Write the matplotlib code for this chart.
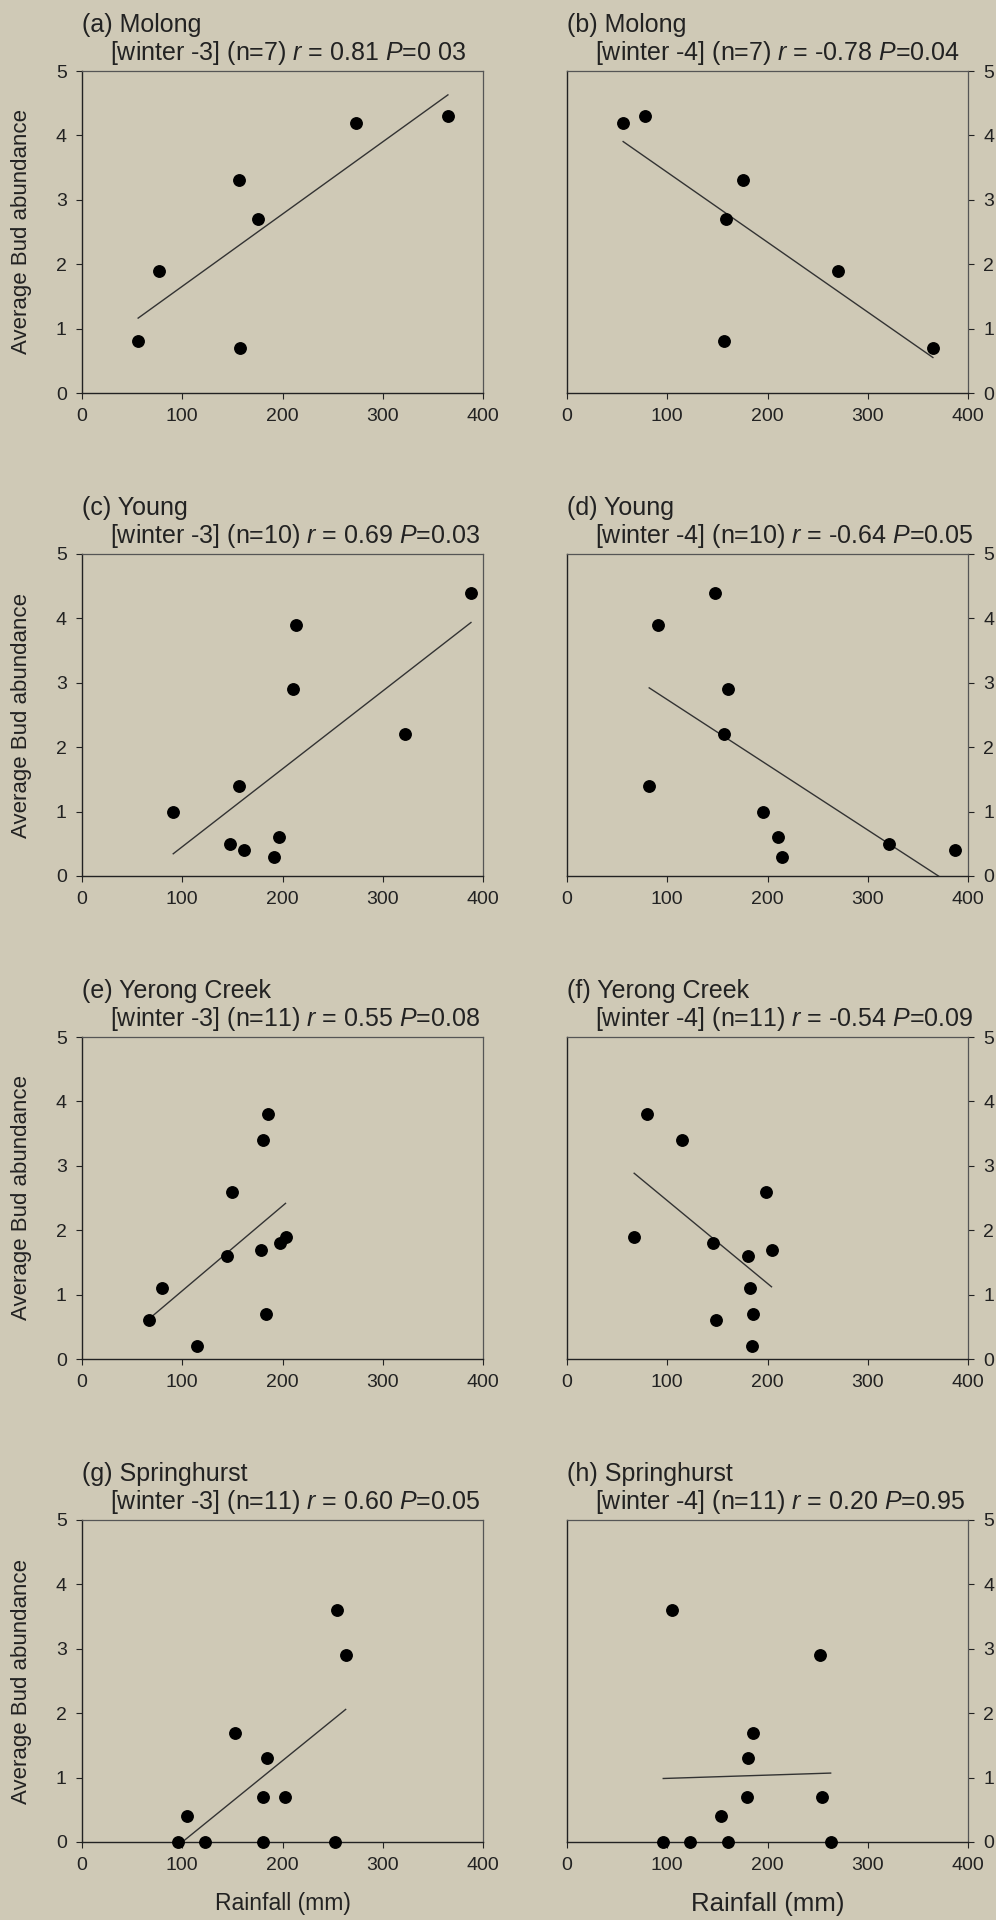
import numpy as np
import matplotlib
matplotlib.use("Agg")
import matplotlib.pyplot as plt

plt.rcParams['font.family'] = ['Liberation Sans', 'DejaVu Sans']
plt.rcParams['mathtext.fontset'] = 'custom'
plt.rcParams['mathtext.rm'] = 'Liberation Sans'
plt.rcParams['mathtext.it'] = 'Liberation Sans:italic'

BG = '#cfc9b6'

# rainfall (mm) and average bud abundance
rain_a = [56, 77, 157, 176, 158, 273, 365]
bud_a = [0.8, 1.9, 3.3, 2.7, 0.7, 4.2, 4.3]

rain_b = [56, 78, 176, 159, 157, 270, 365]
bud_b = [4.2, 4.3, 3.3, 2.7, 0.8, 1.9, 0.7]

rain_c = [91, 157, 148, 162, 192, 197, 210, 213, 322, 388]
bud_c = [1.0, 1.4, 0.5, 0.4, 0.3, 0.6, 2.9, 3.9, 2.2, 4.4]

rain_d = [148, 91, 161, 157, 82, 196, 210, 214, 321, 387]
bud_d = [4.4, 3.9, 2.9, 2.2, 1.4, 1.0, 0.6, 0.3, 0.5, 0.4]

rain_e = [67, 80, 115, 145, 150, 179, 181, 186, 184, 198, 203]
bud_e = [0.6, 1.1, 0.2, 1.6, 2.6, 1.7, 3.4, 3.8, 0.7, 1.8, 1.9]

rain_f = [80, 115, 199, 67, 146, 181, 204, 183, 186, 149, 185]
bud_f = [3.8, 3.4, 2.6, 1.9, 1.8, 1.6, 1.7, 1.1, 0.7, 0.6, 0.2]

rain_g = [96, 123, 181, 252, 105, 153, 185, 181, 202, 254, 263]
bud_g = [0.0, 0.0, 0.0, 0.0, 0.4, 1.7, 1.3, 0.7, 0.7, 3.6, 2.9]

rain_h = [96, 123, 161, 263, 105, 154, 180, 181, 186, 252, 254]
bud_h = [0.0, 0.0, 0.0, 0.0, 3.6, 0.4, 0.7, 1.3, 1.7, 2.9, 0.7]

sites = ['(a) Molong', '(b) Molong', '(c) Young', '(d) Young',
         '(e) Yerong Creek', '(f) Yerong Creek', '(g) Springhurst', '(h) Springhurst']
stats = ['[winter -3] (n=7) $r$ = 0.81 $P$=0 03',
         '[winter -4] (n=7) $r$ = -0.78 $P$=0.04',
         '[winter -3] (n=10) $r$ = 0.69 $P$=0.03',
         '[winter -4] (n=10) $r$ = -0.64 $P$=0.05',
         '[winter -3] (n=11) $r$ = 0.55 $P$=0.08',
         '[winter -4] (n=11) $r$ = -0.54 $P$=0.09',
         '[winter -3] (n=11) $r$ = 0.60 $P$=0.05',
         '[winter -4] (n=11) $r$ = 0.20 $P$=0.95']
panels = [(rain_a, bud_a), (rain_b, bud_b), (rain_c, bud_c), (rain_d, bud_d),
          (rain_e, bud_e), (rain_f, bud_f), (rain_g, bud_g), (rain_h, bud_h)]

W, H = 996, 1920
fig = plt.figure(figsize=(W / 100, H / 100), dpi=100, facecolor=BG)

col_left = [82, 567]
row_top = [71, 554, 1037, 1520]
ax_w, ax_h = 401, 322

for i, (x, y) in enumerate(panels):
    row, col = divmod(i, 2)
    l = col_left[col] / W
    b = 1 - (row_top[row] + ax_h) / H
    ax = fig.add_axes([l, b, ax_w / W, ax_h / H])
    ax.set_facecolor(BG)

    ax.scatter(x, y, s=68, color='black', zorder=3, clip_on=False)
    k, c = np.polyfit(x, y, 1)
    xs = np.array([min(x), max(x)])
    ax.plot(xs, k * xs + c, color='#333333', lw=1.0, zorder=2)

    ax.set_xlim(0, 400)
    ax.set_ylim(0, 5)
    ax.set_xticks([0, 100, 200, 300, 400])
    ax.set_yticks([0, 1, 2, 3, 4, 5])
    ax.tick_params(direction='out', length=4, width=0.8, labelsize=14,
                   colors='#222222', pad=7)
    for s in ['left', 'bottom']:
        ax.spines[s].set_color('#222222')
        ax.spines[s].set_linewidth(1.0)
    for s in ['top', 'right']:
        ax.spines[s].set_color('#555555')
        ax.spines[s].set_linewidth(0.9)

    if col == 0:
        ax.set_ylabel('Average Bud abundance', fontsize=16, color='#222222')
        ax.yaxis.set_label_coords(-0.125, 0.5)
    else:
        ax.yaxis.tick_right()

    if row == 3:
        ax.set_xlabel('Rainfall (mm)', fontsize=16.5 if col == 0 else 18.5,
                      color='#222222')
        ax.xaxis.set_label_coords(0.5, -0.155)

    ax.text(0.0, 1 + 46 / ax_h, sites[i], transform=ax.transAxes,
            ha='left', va='center', fontsize=18, color='#222222')
    ax.text(0.07, 1 + 18 / ax_h, stats[i], transform=ax.transAxes,
            ha='left', va='center', fontsize=18, color='#222222')

fig.savefig('out.png', dpi=100, facecolor=BG)
